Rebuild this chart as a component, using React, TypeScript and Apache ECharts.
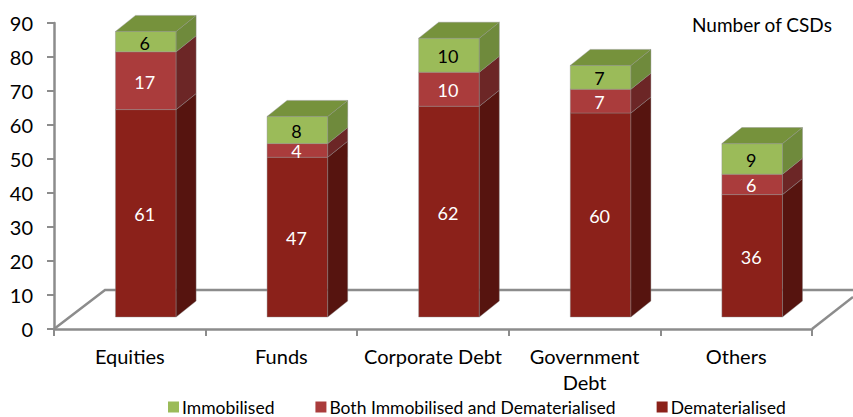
import React, { useEffect, useRef } from "react";
import * as echarts from "echarts";

const categories = ["Equities", "Funds", "Corporate Debt", "Government\nDebt", "Others"];
const dematerialised = [61, 47, 62, 60, 36];
const both = [17, 4, 10, 7, 6];
const immobilised = [6, 8, 10, 7, 9];
const yTicks = { min: 0, max: 90, interval: 10 };

const FONT = "Lato";
const DX = 20, DY = 16, OX = 16, OY = 12;
const EDGE = "rgba(140,140,140,0.4)";

function segRender(front: string, side: string, labelColor: string, top: string | null) {
  return (params: any, api: any) => {
    const idx = api.value(0);
    const lo = api.coord([idx, api.value(1)]);
    const hi = api.coord([idx, api.value(2)]);
    const w = api.size([1, 0])[0] * 0.4;
    const x0 = lo[0] + OX - w / 2;
    const x1 = x0 + w;
    const yb = lo[1] - OY;
    const yt = hi[1] - OY;
    const children: any[] = [
      {
        type: "rect",
        shape: { x: x0, y: yt, width: w, height: yb - yt },
        style: { fill: front, stroke: EDGE, lineWidth: 1 },
      },
      {
        type: "polygon",
        shape: { points: [[x1, yb], [x1 + DX, yb - DY], [x1 + DX, yt - DY], [x1, yt]] },
        style: { fill: side, stroke: EDGE, lineWidth: 1 },
      },
    ];
    if (top) {
      children.push({
        type: "polygon",
        shape: { points: [[x0, yt], [x1, yt], [x1 + DX, yt - DY], [x0 + DX, yt - DY]] },
        style: { fill: top, stroke: EDGE, lineWidth: 1 },
      });
    }
    children.push({
      type: "text",
      style: {
        text: String(api.value(2) - api.value(1)),
        x: (x0 + x1) / 2 - 1,
        y: (yb + yt) / 2 + 1,
        align: "center",
        verticalAlign: "middle",
        fill: labelColor,
        font: `18px ${FONT}`,
      },
    });
    return { type: "group", children };
  };
}

function floorRender(params: any, api: any) {
  const a = api.coord([0, 0]);
  const w = api.size([1, 0])[0];
  const left = a[0] - w / 2;
  const right = left + w * categories.length;
  const y0 = a[1];
  const style = { stroke: "#8C8C8C", lineWidth: 2.5, fill: "none" };
  return {
    type: "group",
    children: [
      { type: "polyline", shape: { points: [[left, y0], [left + 51, y0 - 39], [853, y0 - 39]] }, style },
      { type: "line", shape: { x1: right, y1: y0, x2: right + 41, y2: y0 - 32 }, style },
    ],
  };
}

export default function App() {
  const ref = useRef<HTMLDivElement>(null);
  useEffect(() => {
    const chart = echarts.init(ref.current!, null, { renderer: "svg" });
    const seg = (base: number[], vals: number[]) =>
      vals.map((v, i) => [i, base[i], base[i] + v]);
    const b2 = dematerialised.map((v, i) => v + both[i]);
    const axisLine = { show: true, lineStyle: { color: "#8C8C8C", width: 2.5 } };
    const axisTick = { show: true, length: 7, lineStyle: { color: "#8C8C8C", width: 2 } };
    chart.setOption({
      animation: false,
      title: {
        text: "Number of CSDs",
        left: 692,
        top: 15,
        padding: 0,
        textStyle: { fontFamily: FONT, fontSize: 19, fontWeight: "normal", color: "#000" },
      },
      legend: {
        left: 168,
        top: 398,
        padding: 0,
        selectedMode: false,
        itemWidth: 11,
        itemHeight: 11,
        itemGap: 41,
        icon: "rect",
        textStyle: { fontFamily: FONT, fontSize: 17.5, lineHeight: 14, color: "#000", padding: [0, 0, 0, -2] },
        data: ["Immobilised", "Both Immobilised and Dematerialised", "Dematerialised"],
      },
      grid: { left: 54, top: 23, bottom: 88, width: 758, containLabel: false },
      xAxis: {
        type: "category",
        data: categories,
        axisLine,
        axisTick,
        axisLabel: { fontFamily: FONT, fontSize: 20, color: "#000", margin: 14, lineHeight: 26, interval: 0 },
      },
      yAxis: {
        type: "value",
        ...yTicks,
        axisLine,
        axisTick,
        axisLabel: { fontFamily: FONT, fontSize: 20, color: "#000", margin: 21 },
        splitLine: { show: false },
      },
      series: [
        {
          type: "custom",
          name: "floor",
          silent: true,
          z: 1,
          data: [[0, 0]],
          encode: { x: 0, y: 1 },
          renderItem: floorRender,
        },
        {
          type: "custom",
          name: "Dematerialised",
          z: 2,
          itemStyle: { color: "#8B211A" },
          data: seg(dematerialised.map(() => 0), dematerialised),
          encode: { x: 0, y: [1, 2] },
          renderItem: segRender("#8B211A", "#56140F", "#fff", null),
        },
        {
          type: "custom",
          name: "Both Immobilised and Dematerialised",
          z: 3,
          itemStyle: { color: "#AA3C3C" },
          data: seg(dematerialised, both),
          encode: { x: 0, y: [1, 2] },
          renderItem: segRender("#AA3C3C", "#6C2626", "#fff", null),
        },
        {
          type: "custom",
          name: "Immobilised",
          z: 4,
          itemStyle: { color: "#9BBB59" },
          data: seg(b2, immobilised),
          encode: { x: 0, y: [1, 2] },
          renderItem: segRender("#9BBB59", "#6F8A3C", "#000", "#76923C"),
        },
      ],
    });
    return () => chart.dispose();
  }, []);
  return (
    <div
      ref={ref}
      style={{ position: "absolute", left: 0, top: 0, width: 853, height: 417, background: "#fff" }}
    />
  );
}
